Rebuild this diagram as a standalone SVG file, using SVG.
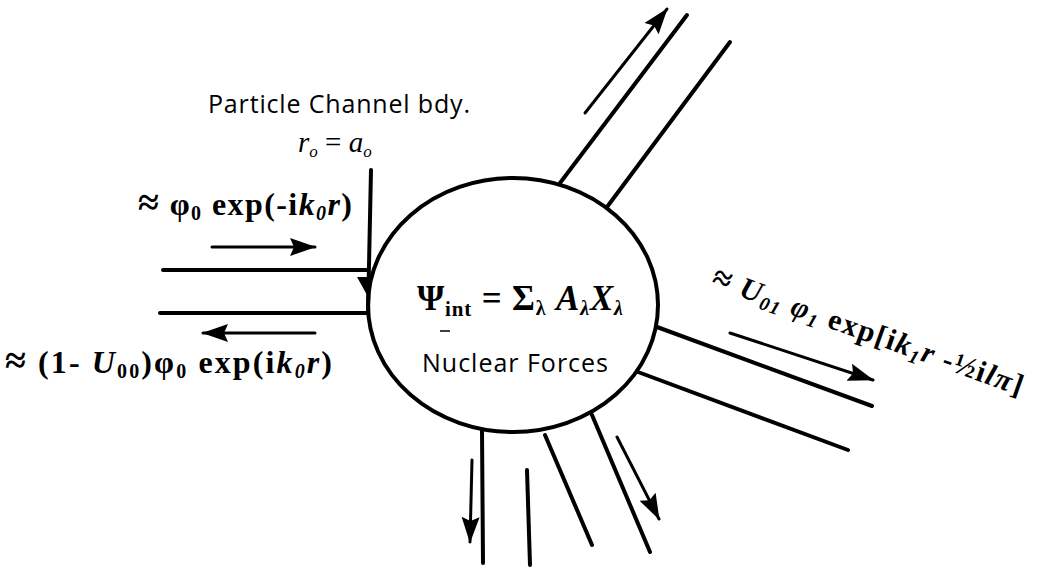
<svg xmlns="http://www.w3.org/2000/svg" width="1038" height="570" viewBox="0 0 1038 570">
<style>
.ln{stroke:#000;stroke-width:4;stroke-linecap:round;fill:none}
.ar{stroke:#000;stroke-width:3;stroke-linecap:round;fill:none}
.math{font-family:"Liberation Serif","Times New Roman",serif;font-weight:bold;fill:#000}
.sans{font-family:"Open Sans","Liberation Sans",sans-serif;fill:#000}
.it{font-style:italic}
.nw{font-weight:normal}
</style>
<defs>
<marker id="ah" markerUnits="userSpaceOnUse" markerWidth="28" markerHeight="22" refX="25" refY="11" orient="auto">
<path d="M0,2 L26,11 L0,20 L4,11 Z" fill="#000"/>
</marker>
</defs>
<rect width="1038" height="570" fill="#fff"/>
<g id="nucleus">
<ellipse cx="513" cy="305" rx="145" ry="127" fill="none" stroke="#000" stroke-width="4"/>
<text class="math" x="417" y="310" font-size="35" textLength="206">Ψ<tspan font-size="21" dy="6">int</tspan><tspan dy="-6"> = Σ</tspan><tspan font-size="20" dy="5">λ</tspan><tspan dy="-5" class="it"> A</tspan><tspan class="it" font-size="20" dy="5">λ</tspan><tspan class="it" dy="-5">X</tspan><tspan class="it" font-size="20" dy="5">λ</tspan></text>
<line x1="440" y1="331" x2="450" y2="331" stroke="#000" stroke-width="1.5"/>
<text class="sans" x="422" y="372" font-size="25" textLength="186">Nuclear Forces</text>
</g>
<g id="labels">
<text class="sans" x="208" y="113" font-size="25" textLength="262">Particle Channel bdy.</text>
<text class="math nw" x="298" y="152" font-size="29"><tspan class="it">r</tspan><tspan class="it" font-size="17" dy="5">o</tspan><tspan dy="-5"> = </tspan><tspan class="it">a</tspan><tspan class="it" font-size="17" dy="5">o</tspan></text>
<text class="math" x="138" y="215" font-size="32" textLength="214"><tspan font-size="38">≈</tspan> φ<tspan font-size="20" dy="5">0</tspan><tspan dy="-5"> exp(-i</tspan><tspan class="it">k</tspan><tspan class="it" font-size="20" dy="5">0</tspan><tspan class="it" dy="-5">r</tspan>)</text>
<text class="math" x="5" y="373" font-size="32" textLength="327"><tspan font-size="38">≈</tspan> (1- <tspan class="it">U</tspan><tspan font-size="20" dy="5">00</tspan><tspan dy="-5">)φ</tspan><tspan font-size="20" dy="5">0</tspan><tspan dy="-5"> exp(i</tspan><tspan class="it">k</tspan><tspan class="it" font-size="20" dy="5">0</tspan><tspan class="it" dy="-5">r</tspan>)</text>
<text class="math" transform="translate(710,286) rotate(19.5)" x="0" y="0" font-size="30" textLength="328"><tspan font-size="34">≈</tspan> <tspan class="it">U</tspan><tspan class="it" font-size="19" dy="5">01</tspan><tspan class="it" dy="-5"> φ</tspan><tspan class="it" font-size="19" dy="5">1</tspan><tspan dy="-5"> exp[i</tspan><tspan class="it">k</tspan><tspan class="it" font-size="19" dy="5">1</tspan><tspan class="it" dy="-5">r</tspan> -½i<tspan class="it">l</tspan><tspan class="it">π</tspan>]</text>
</g>
<g id="connectors">
<line class="ln" x1="371" y1="170" x2="368" y2="313"/>
<path d="M357,277 L371,277 L367,295 Z" fill="#000"/>
<line class="ln" x1="163" y1="270" x2="368" y2="270"/>
<line class="ln" x1="160" y1="313" x2="368" y2="313"/>
<line class="ar" x1="212" y1="247" x2="315" y2="247" marker-end="url(#ah)"/>
<line class="ar" x1="315" y1="333" x2="203" y2="333" marker-end="url(#ah)"/>
<line class="ln" x1="560" y1="183" x2="687" y2="15"/>
<line class="ln" x1="607" y1="207" x2="730" y2="42"/>
<line class="ar" x1="585" y1="113" x2="667" y2="9" marker-end="url(#ah)"/>
<line class="ln" x1="657" y1="327" x2="872" y2="406"/>
<line class="ln" x1="638" y1="372" x2="848" y2="450"/>
<line class="ar" x1="730" y1="333" x2="873" y2="380" marker-end="url(#ah)"/>
<line class="ln" x1="482" y1="430" x2="483" y2="563"/>
<line class="ln" x1="527" y1="470" x2="530" y2="565"/>
<line class="ln" x1="545" y1="435" x2="592" y2="545"/>
<line class="ln" x1="592" y1="415" x2="650" y2="552"/>
<line class="ar" x1="472" y1="460" x2="470" y2="542" marker-end="url(#ah)"/>
<line class="ar" x1="617" y1="437" x2="659" y2="519" marker-end="url(#ah)"/>
</g>
</svg>
